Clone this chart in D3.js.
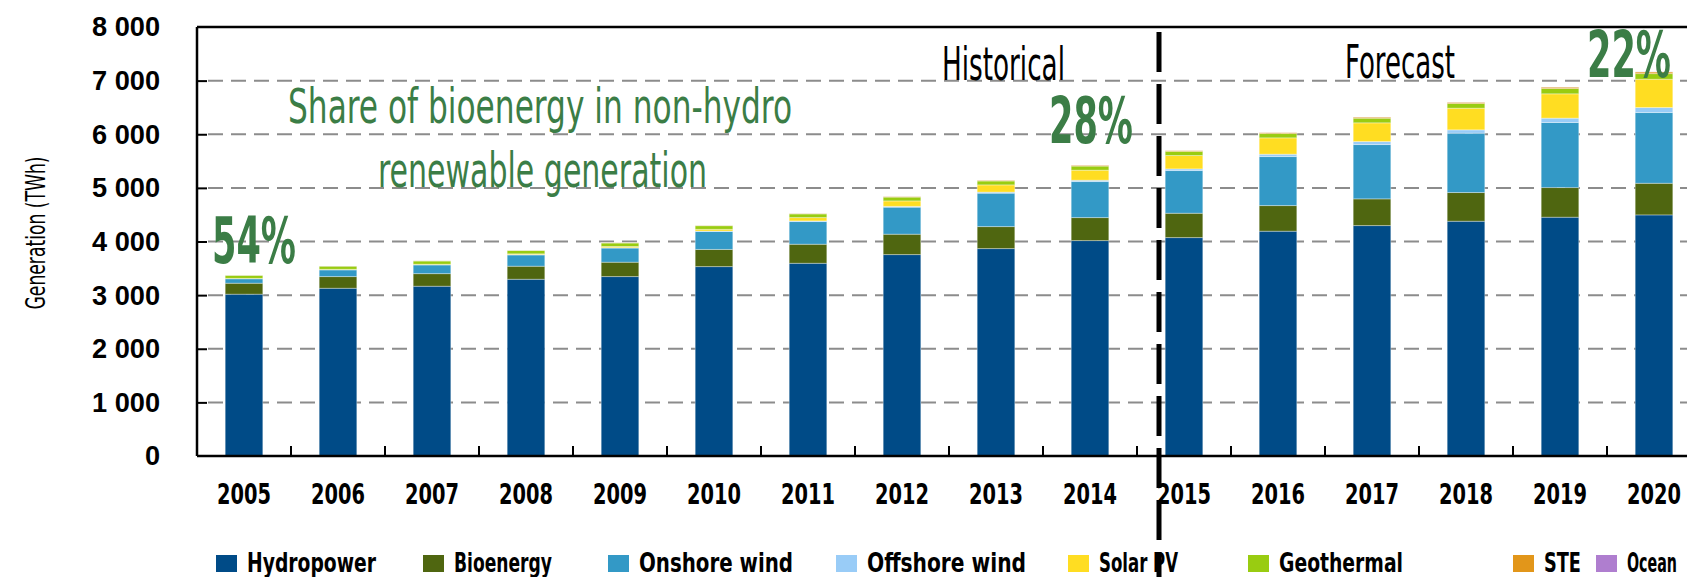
<html><head>
<meta charset="utf-8">
<title>Renewable generation</title>
<script src="https://cdn.jsdelivr.net/npm/d3@7/dist/d3.min.js"></script>
<style>
  body { margin: 0; background: #fff; }
  svg { display: block; font-family: "DejaVu Sans Condensed", "Liberation Sans Narrow", "Open Sans", sans-serif; }
  .grid line { stroke: #8c8c8c; stroke-width: 2; stroke-dasharray: 15 8; }
  .frame { stroke: #000; stroke-width: 2.5; }
  .tick-mark { stroke: #000; stroke-width: 2; }
  .note { fill: #3b7d46; }
</style>
</head>
<body>
<svg id="chart" width="1687" height="577"></svg>

<script>
// ---- data (TWh) ----
var years = ["2005","2006","2007","2008","2009","2010","2011","2012","2013","2014",
             "2015","2016","2017","2018","2019","2020"]
var hydro    = [3017,3128,3166,3296,3346,3532,3594,3756,3868,4017,4073,4192,4297,4378,4453,4496]
var bio      = [205,218,235,243,268,320,355,380,410,429,454,478,498,535,553,590]
var onshore  = [84,126,163,211,264,335,423,504,623,672,796,914,1013,1107,1213,1319]
var offshore = [2,3,4,6,7,8,12,15,20,25,31,44,56,62,81,93]
var solar    = [4,6,8,14,22,32,62,102,135,187,249,305,349,404,454,528]
var geo      = [58,60,62,64,66,68,69,71,72,76,78,80,86,87,99,105]
var ste      = [1,1,1,2,3,4,6,9,12,15,14,18,20,22,25,30]
var ocean    = [1,1,1,1,1,1,1,1,1,1,1,1,1,2,2,2]

var seriesNames  = ["Hydropower","Bioenergy","Onshore wind","Offshore wind","Solar PV","Geothermal","STE","Ocean"]
var seriesValues = [hydro, bio, onshore, offshore, solar, geo, ste, ocean]
var seriesColors = ["#004b87","#4f6610","#3399c6","#99ccf7","#ffdd22","#99cc11","#e2961a","#af7ecf"]

var yTicks = [0,1000,2000,3000,4000,5000,6000,7000,8000]
var shareNotes = [ {year: "2005", text: "54%"}, {year: "2014", text: "28%"}, {year: "2020", text: "22%"} ]
var legendX = [216, 423, 608, 836, 1068, 1248, 1513, 1596]
var legendW = [129, 98, 154, 159, 79, 124, 37, 50]
</script>

<script>
var svg = d3.select("#chart")

var plotLeft = 197, plotTop = 27, plotBottom = 456

var x = d3.scaleBand()
  .domain(years)
  .range([plotLeft, plotLeft + years.length * 94])
  .paddingInner(0.6)
  .paddingOuter(0.3)

var y = d3.scaleLinear()
  .domain([0, 8000])
  .range([plotBottom, plotTop])

// squeeze text horizontally, the original font is a condensed one
function condense(sel, f) {
  sel.each(function() {
    var n = this.getComputedTextLength()
    d3.select(this).attr("textLength", n * f).attr("lengthAdjust", "spacingAndGlyphs")
  })
}
function fitWidth(sel, w) {
  sel.attr("textLength", w).attr("lengthAdjust", "spacingAndGlyphs")
}

// gridlines
svg.append("g").classed("grid", true)
  .selectAll("line")
  .data(yTicks.filter(function(d) { return d > 0 && d < 8000 }))
  .join("line")
  .attr("x1", plotLeft + 11).attr("x2", 1687)
  .attr("y1", function(d) { return y(d) }).attr("y2", function(d) { return y(d) })

// stacked bars
var table = years.map(function(yr, i) {
  var row = { year: yr }
  seriesNames.forEach(function(s, j) { row[s] = seriesValues[j][i] })
  return row
})
var stacked = d3.stack().keys(seriesNames)(table)

svg.append("g").selectAll("g")
  .data(stacked)
  .join("g")
  .attr("fill", function(d, i) { return seriesColors[i] })
  .selectAll("rect")
  .data(function(d) { return d })
  .join("rect")
  .attr("x", function(d) { return x(d.data.year) })
  .attr("width", x.bandwidth())
  .attr("y", function(d) { return y(d[1]) })
  .attr("height", function(d) { return y(d[0]) - y(d[1]) })
  .attr("stroke", "rgba(255,255,255,0.35)")
  .attr("stroke-width", 1)

// frame: left axis, top line, baseline
svg.append("line").classed("frame", true)
  .attr("x1", plotLeft).attr("x2", plotLeft).attr("y1", plotTop).attr("y2", plotBottom)
svg.append("line").classed("frame", true)
  .attr("x1", plotLeft).attr("x2", 1687).attr("y1", plotTop).attr("y2", plotTop)
svg.append("line").classed("frame", true)
  .attr("x1", plotLeft).attr("x2", 1687).attr("y1", plotBottom).attr("y2", plotBottom)

// y axis ticks and labels
var yAxis = d3.axisLeft(y)
  .tickValues(yTicks)
  .tickSize(-10)
  .tickPadding(37)
  .tickFormat(function(d) { return d === 0 ? "0" : (d / 1000) + " 000" })
var yg = svg.append("g").attr("transform", "translate(" + plotLeft + ",0)").call(yAxis)
yg.select(".domain").remove()
yg.selectAll(".tick line").attr("stroke", "#000").attr("stroke-width", 2)
yg.selectAll(".tick").filter(function(d) { return d === 0 || d === 8000 }).select("line").remove()
yg.selectAll(".tick text")
  .attr("fill", "#000")
  .attr("font-size", 28)
  .attr("font-weight", "bold")
  .attr("font-family", null)
var eight = yg.selectAll(".tick text").filter(function(d) { return d === 8000 }).node()
var yf = 68 / eight.getComputedTextLength()
condense(yg.selectAll(".tick text"), yf)

// x category boundary ticks
svg.append("g").selectAll("line")
  .data(years)
  .join("line")
  .classed("tick-mark", true)
  .attr("x1", function(d) { return x(d) - x.step() * x.paddingInner() / 2 + x.step() })
  .attr("x2", function(d) { return x(d) - x.step() * x.paddingInner() / 2 + x.step() })
  .attr("y1", plotBottom).attr("y2", plotBottom - 10)

// year labels
var yearText = svg.append("g").selectAll("text")
  .data(years)
  .join("text")
  .attr("x", function(d) { return x(d) + x.bandwidth() / 2 })
  .attr("y", 504)
  .attr("text-anchor", "middle")
  .attr("font-size", 29)
  .attr("font-weight", "bold")
  .text(function(d) { return d })
fitWidth(yearText, 54)

// y title
var yTitle = svg.append("text")
  .attr("transform", "translate(45,233) rotate(-90)")
  .attr("text-anchor", "middle")
  .attr("font-size", 26)
  .text("Generation (TWh)")
fitWidth(yTitle, 153)

// historical / forecast divider
svg.append("line")
  .attr("x1", 1159).attr("x2", 1159).attr("y1", 32).attr("y2", 577)
  .attr("stroke", "#000").attr("stroke-width", 5)
  .attr("stroke-dasharray", "40 12")

var hist = svg.append("text").attr("x", 942).attr("y", 80)
  .attr("font-size", 46).text("Historical")
fitWidth(hist, 123)
var fore = svg.append("text").attr("x", 1345).attr("y", 78)
  .attr("font-size", 46).text("Forecast")
fitWidth(fore, 110)

// bioenergy share annotation
var l1 = svg.append("text").classed("note", true).attr("x", 288).attr("y", 123)
  .attr("font-size", 48).text("Share of bioenergy in non-hydro")
fitWidth(l1, 504)
var l2 = svg.append("text").classed("note", true).attr("x", 378).attr("y", 187)
  .attr("font-size", 48).text("renewable generation")
fitWidth(l2, 329)

// percent labels, placed relative to their bar
var noteOffset = { "2005": [-32, 263], "2014": [-41, 143], "2020": [-67, 77] }
svg.append("g").selectAll("text")
  .data(shareNotes)
  .join("text")
  .classed("note", true)
  .attr("x", function(d) { return x(d.year) + x.bandwidth() / 2 + noteOffset[d.year][0] })
  .attr("y", function(d) { return noteOffset[d.year][1] })
  .attr("font-size", 64)
  .attr("font-weight", "bold")
  .attr("textLength", 84)
  .attr("lengthAdjust", "spacingAndGlyphs")
  .text(function(d) { return d.text })

// legend
var lg = svg.append("g").selectAll("g")
  .data(seriesNames)
  .join("g")
  .attr("transform", function(d, i) { return "translate(" + legendX[i] + ",0)" })
lg.append("rect")
  .attr("x", 0).attr("y", 555).attr("width", 21).attr("height", 17)
  .attr("fill", function(d, i) { return seriesColors[i] })
lg.append("text")
  .attr("x", 31).attr("y", 572)
  .attr("font-size", 26)
  .attr("font-weight", "bold")
  .attr("textLength", function(d, i) { return legendW[i] })
  .attr("lengthAdjust", "spacingAndGlyphs")
  .text(function(d) { return d })
</script>
</body>
</html>
